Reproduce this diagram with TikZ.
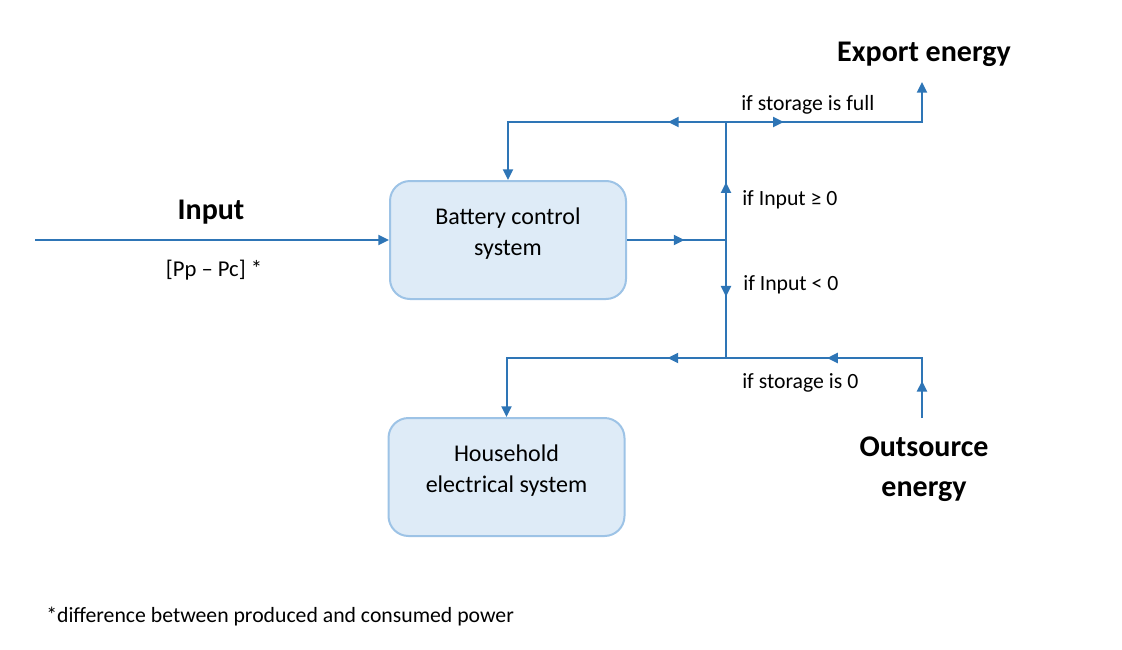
\documentclass[tikz,border=0pt]{standalone}
\usepackage{fontspec}
\setmainfont{Carlito}
\usetikzlibrary{arrows.meta,decorations.markings,positioning}
\definecolor{flowblue}{HTML}{2E75B6}
\definecolor{boxfill}{HTML}{DEEBF7}
\definecolor{boxline}{HTML}{9DC3E6}
\tikzset{flowtip/.tip={Triangle[length=8pt,width=7.5pt]}}
\newcommand{\boxlines}[2]{\raisebox{0.5pt}[0pt][0pt]{\begin{tabular}{@{}c@{}}#1\\#2\end{tabular}}}

\begin{document}
\begin{tikzpicture}[x=0.75pt,y=-0.75pt,
  flow/.style={draw=flowblue,color=flowblue,line width=1.5pt},
  midtip/.style={postaction={decorate,decoration={markings,mark=at position #1 with {\arrow{flowtip}}}}},
  block/.style={draw=boxline,fill=boxfill,line width=1.5pt,rounded corners=15pt,
    minimum width=177pt,minimum height=88.5pt,font=\fontsize{18}{23.25}\selectfont},
  note/.style={inner sep=0pt,font=\fontsize{16.3}{20}\selectfont},
  title/.style={inner sep=0pt,align=center,font=\fontsize{22.5}{30}\selectfont\bfseries}]
\useasboundingbox (0,0) rectangle (1122,650);

% boxes
\node[block] (bcs) at (508,240) {\boxlines{Battery control}{system}};
\node[block] (hes) at (506.5,477) {\boxlines{Household}{electrical system}};

% junctions and free ends
\coordinate (in) at (35,240);
\coordinate (jmid) at (726,240);
\coordinate (jtop) at (726,122);
\coordinate (jbot) at (726,358);
\coordinate (exptip) at (922,82);
\coordinate (outtail) at (922,418);

% texts
\node[title] (input) at (211,212) {Input};
\node[note,font=\fontsize{17}{20}\selectfont] (diff) at (214,270) {[Pp – Pc] *};
\node[title] (export) at (924,54) {Export energy};
\node[title] (outsource) at (924,469) {Outsource\\energy};
\node[note,anchor=west] (full) at (741,105) {if storage is full};
\node[note,anchor=west] (geq) at (742,200) {if Input ≥ 0};
\node[note,anchor=west] (less) at (743,285) {if Input < 0};
\node[note,anchor=west] (empty) at (742,383) {if storage is 0};
\node[note,anchor=west] (foot) at (46,617) {*difference between produced and consumed power};

% flows
\draw[flow,-flowtip] (in) -- (bcs.west);
\draw[flow,midtip=0.58] (bcs.east) -- (jmid);
\draw[flow,midtip=0.49] (jmid) -- (jtop);
\draw[flow,midtip=0.48] (jmid) -- (jbot);
\draw[flow,-flowtip,midtip=0.21] (jtop) -- (jtop -| bcs.north) -- (bcs.north);
\draw[flow,-flowtip,midtip=0.245] (jtop) -- (jtop -| exptip) -- (exptip);
\draw[flow,-flowtip,midtip=0.21] (jbot) -- (jbot -| hes.north) -- (hes.north);
\draw[flow,midtip=0.145,midtip=0.605] (outtail) -- (outtail |- jbot) -- (jbot);
\end{tikzpicture}
\end{document}
